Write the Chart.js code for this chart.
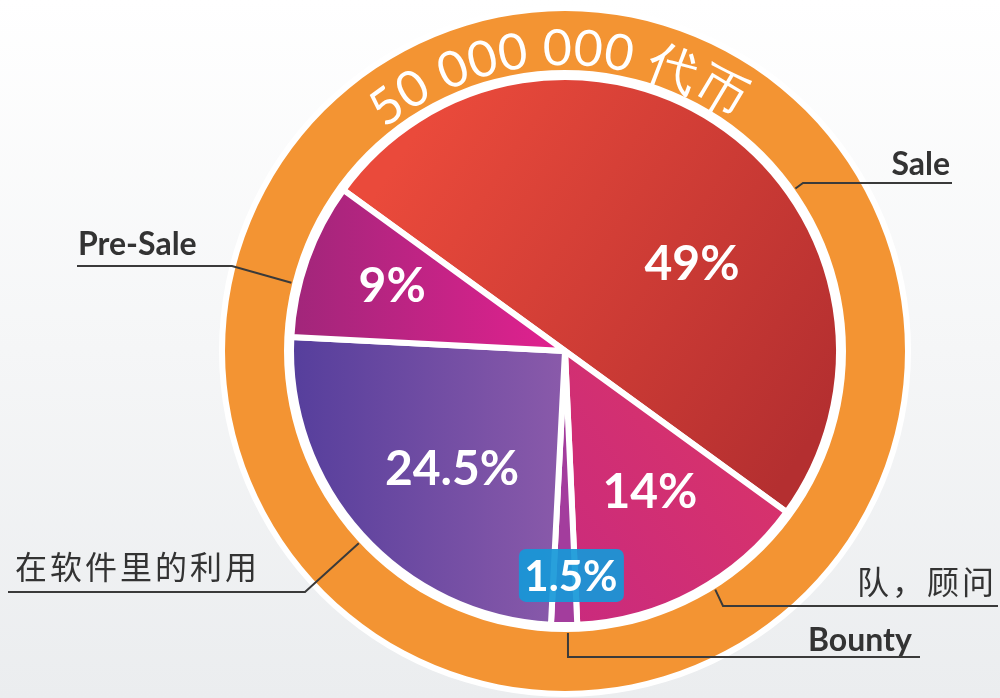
<!DOCTYPE html>
<html>
<head>
<meta charset="utf-8">
<script src="https://cdn.jsdelivr.net/npm/chart.js@4.4.0/dist/chart.umd.min.js"></script>
<style>
    html, body { margin: 0; padding: 0; }
    body { width: 1000px; height: 698px; overflow: hidden; background: linear-gradient(#ffffff, #ebedef); }
    canvas { display: block; }
</style>
</head>
<body>
<canvas id="tokenPie" width="1000" height="698"></canvas>
<script>
// Chart data
const categories = ['Sale', '队，顾问', 'Bounty', '在软件里的利用', 'Pre-Sale'];
const shares = [49, 14, 1.5, 24.5, 9];
const ringTitle = '50 000 000 代币';

// Where the percent labels sit: [angle from top in degrees, distance from centre in px]
const percentSpots = [[55, 155], [148.6, 163], [178.5, 225], [224.2, 162], [290.9, 185]];

// Callouts: angle where the leader leaves the ring, elbow point, end of underline, text spot
const callouts = [
    { idx: 0, angle: 54.8, elbow: [803, 183], endX: 952, tx: 950, ty: 175, align: 'right', bold: true },
    { idx: 4, angle: 284, elbow: [232, 266], endX: 77, tx: 78, ty: 255, align: 'left', bold: true },
    { idx: 3, angle: 227, elbow: [305, 592], endX: 8, tx: 15, ty: 579, align: 'left', bold: false },
    { idx: 1, angle: 147.8, elbow: [723, 606], endX: 998, tx: 857, ty: 594, align: 'left', bold: false },
    { idx: 2, angle: 179.4, elbow: [568, 657], endX: 920, tx: 808, ty: 651, align: 'left', bold: true }
];

// Gradient fills for each slice
function sliceFill(context) {
    const chart = context.chart;
    const area = chart.chartArea;
    if (!area) return '#d33';
    const ctx = chart.ctx;
    const cx = (area.left + area.right) / 2;
    const cy = (area.top + area.bottom) / 2;
    const r = Math.min(area.right - area.left, area.bottom - area.top) / 2;
    let g;
    switch (context.dataIndex) {
        case 0:
            g = ctx.createLinearGradient(cx - 0.6 * r, cy - 0.7 * r, cx + 0.9 * r, cy + 0.3 * r);
            g.addColorStop(0, '#ea4a3b');
            g.addColorStop(1, '#b42f30');
            return g;
        case 1:
            g = ctx.createLinearGradient(cx + 0.8 * r, cy + 0.4 * r, cx, cy + r);
            g.addColorStop(0, '#d8336a');
            g.addColorStop(1, '#c92a7e');
            return g;
        case 2:
            return '#a33d9d';
        case 3:
            g = ctx.createLinearGradient(cx - r, cy, cx, cy);
            g.addColorStop(0, '#553e9c');
            g.addColorStop(1, '#8a5aaa');
            return g;
        default:
            g = ctx.createLinearGradient(cx - r, cy, cx, cy);
            g.addColorStop(0, '#a0267a');
            g.addColorStop(1, '#e2218f');
            return g;
    }
}

// Orange ring behind the pie
const ringPlugin = {
    id: 'ring',
    beforeDatasetsDraw(chart) {
        const arc = chart.getDatasetMeta(0).data[0];
        if (!arc) return;
        const ctx = chart.ctx;
        const { x, y, outerRadius } = arc;
        ctx.save();
        ctx.fillStyle = '#ffffff';
        ctx.beginPath();
        ctx.arc(x, y, outerRadius + 72, 0, Math.PI * 2);
        ctx.fill();
        ctx.fillStyle = '#f39433';
        ctx.beginPath();
        ctx.arc(x, y, outerRadius + 66, 0, Math.PI * 2);
        ctx.arc(x, y, outerRadius + 7, 0, Math.PI * 2, true);
        ctx.fill();
        ctx.restore();
    }
};

// Percent labels, callouts and the curved title
const labelPlugin = {
    id: 'labels',
    afterDatasetsDraw(chart) {
        const arc = chart.getDatasetMeta(0).data[0];
        if (!arc) return;
        const ctx = chart.ctx;
        const cx = arc.x, cy = arc.y, R = arc.outerRadius;
        const rad = d => d * Math.PI / 180;

        ctx.save();
        // percent labels
        ctx.textAlign = 'center';
        ctx.textBaseline = 'middle';
        shares.forEach((v, i) => {
            const [a, d] = percentSpots[i];
            const px = cx + d * Math.sin(rad(a));
            const py = cy - d * Math.cos(rad(a));
            if (i === 2) {
                ctx.fillStyle = 'rgba(22, 152, 216, 0.92)';
                ctx.beginPath();
                ctx.roundRect(px - 52, py - 27, 105, 53, 7);
                ctx.fill();
                ctx.font = 'bold 42px Lato, "Open Sans", sans-serif';
            } else {
                ctx.font = 'bold 48px Lato, "Open Sans", sans-serif';
            }
            ctx.fillStyle = '#ffffff';
            ctx.fillText(v + '%', px, py + 2);
        });

        // callouts
        ctx.strokeStyle = '#3a3a3a';
        ctx.lineWidth = 2;
        ctx.fillStyle = '#333333';
        ctx.textBaseline = 'alphabetic';
        callouts.forEach(c => {
            const sx = cx + (R + 8) * Math.sin(rad(c.angle));
            const sy = cy - (R + 8) * Math.cos(rad(c.angle));
            ctx.beginPath();
            ctx.moveTo(sx, sy);
            ctx.lineTo(c.elbow[0], c.elbow[1]);
            ctx.lineTo(c.endX, c.elbow[1]);
            ctx.stroke();
            ctx.textAlign = c.align;
            if (c.bold) {
                ctx.font = 'bold 32px Lato, "Open Sans", sans-serif';
                ctx.letterSpacing = '0px';
            } else {
                ctx.font = '32px "Noto Sans CJK SC", sans-serif';
                ctx.letterSpacing = '3px';
            }
            ctx.fillText(categories[c.idx], c.tx, c.ty);
        });
        ctx.letterSpacing = '0px';

        // curved title on the ring
        ctx.font = '400 50px Lato, "Open Sans", sans-serif';
        ctx.fillStyle = '#ffffff';
        ctx.textAlign = 'center';
        const chars = Array.from(ringTitle);
        const widths = chars.map(ch => ctx.measureText(ch).width);
        const baseR = R + 12;
        const startA = rad(-39), endA = rad(36);
        const natural = widths.reduce((s, w) => s + w, 0);
        const extra = ((endA - startA) * baseR - natural) / (chars.length - 1);
        let pos = startA * baseR;
        chars.forEach((ch, i) => {
            const a = (pos + widths[i] / 2) / baseR;
            ctx.save();
            ctx.translate(cx, cy);
            ctx.rotate(a);
            ctx.fillText(ch, 0, -baseR);
            ctx.restore();
            pos += widths[i] + extra;
        });
        ctx.restore();
    }
};

new Chart(document.getElementById('tokenPie'), {
    type: 'pie',
    data: {
        labels: categories,
        datasets: [{
            data: shares,
            backgroundColor: sliceFill,
            borderColor: '#ffffff',
            borderWidth: 6
        }]
    },
    options: {
        responsive: false,
        animation: false,
        rotation: 306,
        layout: { padding: { left: 288, right: 158, top: 74, bottom: 70 } },
        plugins: {
            legend: { display: false },
            tooltip: { enabled: false }
        }
    },
    plugins: [ringPlugin, labelPlugin]
});
</script>
</body>
</html>
